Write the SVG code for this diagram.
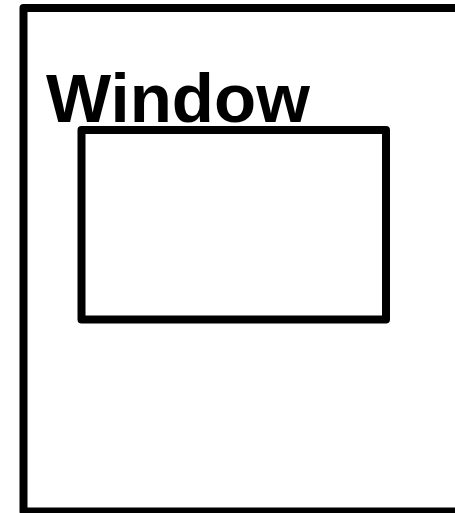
<svg xmlns="http://www.w3.org/2000/svg" width="455" height="513" viewBox="0 0 455 513">
<style>
.box{fill:none;stroke:#000;stroke-width:8;stroke-linejoin:round}
.lbl{font-family:"Liberation Sans",Arial,sans-serif;font-weight:bold;font-size:69px;fill:#000}
</style>
<rect width="455" height="513" fill="#fff"/>
<g id="window">
<rect class="box" x="23.5" y="8" width="445" height="503.5"/>
<text class="lbl" x="46" y="122">Window</text>
</g>
<g id="inner">
<rect class="box" x="81.5" y="130" width="304.5" height="189.5"/>
</g>
<g id="connectors"></g>
</svg>
